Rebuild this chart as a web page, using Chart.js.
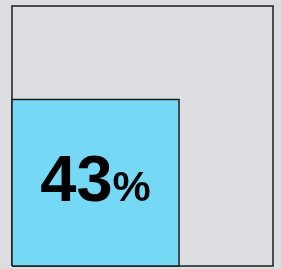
<!DOCTYPE html>
<html>
<head>
<meta charset="utf-8">
<script src="https://cdn.jsdelivr.net/npm/chart.js@4/dist/chart.umd.min.js"></script>
<style>
	html, body { margin: 0; padding: 0; background: #dcdde0; }
	#wrap { width: 281px; height: 269px; }
</style>
</head>
<body>
<div id="wrap"><canvas id="squareChart" width="281" height="269"></canvas></div>
<script>
// sizes of the squares (side as share of the whole)
const labels = ['Всего', 'Доля']
const sides = [1, 0.64]
const valueLabels = ['', '43%']
const fills = ['#dcdde0', '#75d9f6']

function squarePoints(s) {
	return [
		{ x: 0, y: 0 },
		{ x: 0, y: s },
		{ x: s, y: s },
		{ x: s, y: 0 },
		{ x: 0, y: 0 },
	]
}

// заливка (верхняя грань до нуля) и контур для каждого квадрата
const datasets = []
sides.forEach((s, i) => {
	datasets.push({
		label: labels[i] + ' fill',
		data: [{ x: 0, y: s }, { x: s, y: s }],
		order: 10 - i * 2,
		showLine: true,
		fill: 'origin',
		backgroundColor: fills[i],
		borderWidth: 0,
		pointRadius: 0,
		clip: false,
	})
	datasets.push({
		label: labels[i],
		data: squarePoints(s),
		order: 9 - i * 2,
		showLine: true,
		fill: false,
		borderColor: '#1c1c1c',
		borderWidth: 1.5,
		pointRadius: 0,
		tension: 0,
		clip: false,
	})
})

// подпись в центре малого квадрата
const labelPlugin = {
	id: 'squareLabel',
	afterDatasetsDraw(chart) {
		const { ctx, scales } = chart
		const s = sides[1]
		const cx = (scales.x.getPixelForValue(0) + scales.x.getPixelForValue(s)) / 2
		const cy = (scales.y.getPixelForValue(0) + scales.y.getPixelForValue(s)) / 2
		const txt = valueLabels[1]
		const num = txt.replace('%', '')
		ctx.save()
		ctx.fillStyle = '#000'
		ctx.textBaseline = 'alphabetic'
		ctx.font = 'bold 65px "Liberation Sans", Arial, sans-serif'
		const w1 = ctx.measureText(num).width
		ctx.font = 'bold 43px "Liberation Sans", Arial, sans-serif'
		const w2 = ctx.measureText('%').width
		const x0 = cx - (w1 + w2) / 2
		const base = cy + 18
		ctx.font = 'bold 65px "Liberation Sans", Arial, sans-serif'
		ctx.fillText(num, x0, base)
		ctx.font = 'bold 43px "Liberation Sans", Arial, sans-serif'
		ctx.fillText('%', x0 + w1, base)
		ctx.restore()
	},
}

const ctx = document.getElementById('squareChart').getContext('2d')
const squareChart = new Chart(ctx, {
	type: 'scatter',
	data: { datasets: datasets },
	options: {
		responsive: false,
		animation: false,
		layout: { padding: { left: 12, top: 6, right: 8, bottom: 3 } },
		plugins: {
			legend: { display: false },
			tooltip: { enabled: false },
			filler: { drawTime: 'beforeDatasetDraw' },
		},
		scales: {
			x: { type: 'linear', min: 0, max: 1, display: false },
			y: { type: 'linear', min: 0, max: 1, display: false },
		},
	},
	plugins: [labelPlugin],
})
</script>
</body>
</html>
